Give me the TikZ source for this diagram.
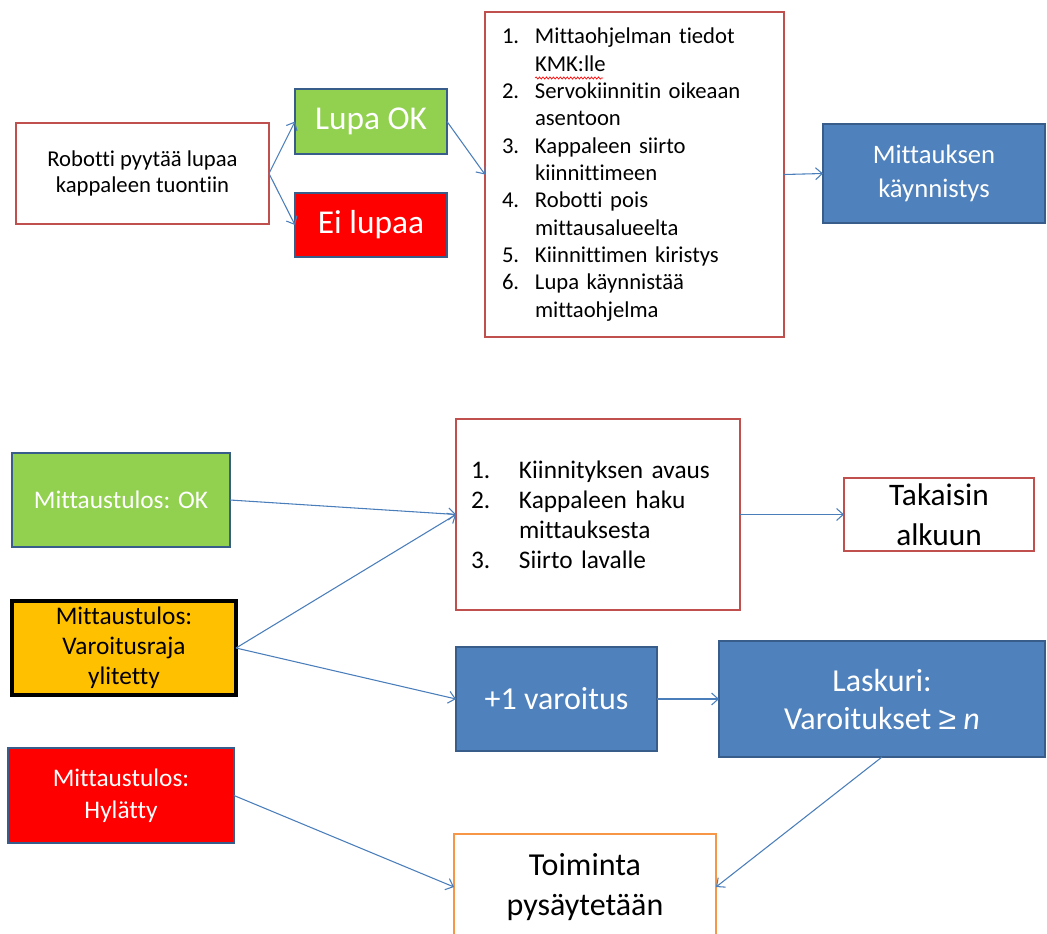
\documentclass[tikz,border=0pt]{standalone}
\usepackage{fontspec}
\setmainfont[Ligatures=NoCommon]{Carlito}
\newfontfamily\symfont{Liberation Sans}
\usetikzlibrary{arrows.meta,decorations.pathmorphing}
\definecolor{arrowc}{RGB}{74,126,187}
\definecolor{bluefill}{RGB}{79,129,189}
\definecolor{blueline}{RGB}{56,93,138}
\definecolor{greenfill}{RGB}{146,208,80}
\definecolor{redline}{RGB}{192,80,77}
\definecolor{orangeline}{RGB}{247,150,70}
\definecolor{amber}{RGB}{255,192,0}
\tikzset{
  box/.style={draw, line width=2.1pt, inner sep=0pt, outer sep=0pt, align=center},
  whitebox/.style={box, draw=redline, fill=white, text=black},
  greenbox/.style={box, draw=blueline, fill=greenfill, text=white},
  bluebox/.style={box, draw=blueline, fill=bluefill, text=white},
  redbox/.style={box, draw=blueline, fill=red, text=white},
  amberbox/.style={box, draw=black, line width=2.6pt, fill=amber, text=black},
  orangebox/.style={box, draw=orangeline, line width=2.1pt, fill=white, text=black},
  listbox/.style={whitebox, align=left},
  fs/.style 2 args={font=\fontsize{#1}{#2}\selectfont},
  conn/.style={draw=arrowc, line width=0.8pt, -{Straight Barb[length=5pt,width=9pt]}},
  squiggle/.style={draw=red, line width=0.5pt, decorate,
    decoration={snake, amplitude=0.8pt, segment length=2.6pt}},
}
\newcommand\mybox[7]{%
  \node[#6, minimum width={(#4-#2)*0.75pt}, minimum height={(#5-#3)*0.75pt}]
    (#1) at ({(#2+#4)/2},{(#3+#5)/2}) {#7};}
\newcommand\itemA[2]{\makebox[24.75pt][l]{#1}#2}
\newcommand\itemB[2]{\makebox[36pt][l]{#1}#2}
\begin{document}
\begin{tikzpicture}[x=0.75pt, y=-0.75pt]
\useasboundingbox (0,0) rectangle (1047,933);
\clip (0,0) rectangle (1047,933);
% top part
\mybox{req}{16}{123}{269}{224}{whitebox, fs={17}{20}}{Robotti pyytää lupaa\\kappaleen tuontiin}
\mybox{lupa}{295}{89}{447}{154}{greenbox, fs={25}{30}}{Lupa OK}
\mybox{ei}{295}{193}{447}{257}{redbox, fs={25}{30}}{Ei lupaa}
\mybox{listA}{485}{12}{784}{337}{listbox, fs={17}{20.5}, text width=198.75pt, inner xsep=12.75pt}{%
\itemA{1.}{Mittaohjelman tiedot}\\
\itemA{}{KMK:lle}\\
\itemA{2.}{Servokiinnitin oikeaan}\\
\itemA{}{asentoon}\\
\itemA{3.}{Kappaleen siirto}\\
\itemA{}{kiinnittimeen}\\
\itemA{4.}{Robotti pois}\\
\itemA{}{mittausalueelta}\\
\itemA{5.}{Kiinnittimen kiristys}\\
\itemA{6.}{Lupa käynnistää}\\
\itemA{}{mittaohjelma}}
\mybox{start}{823}{124}{1045}{223}{bluebox, fs={20}{25}}{Mittauksen\\käynnistys}
\draw[squiggle] (535,78) -- (603,78);
% bottom part
\mybox{ok}{12}{453}{230}{547}{greenbox, fs={19}{22.5}}{Mittaustulos: OK}
\mybox{warn}{12}{601}{236}{695}{amberbox, fs={19}{22.5}}{Mittaustulos:\\Varoitusraja\\ylitetty}
\mybox{rej}{8}{748}{234}{843}{redbox, fs={19}{24}}{Mittaustulos:\\Hylätty}
\mybox{listB}{456}{419}{740}{610}{listbox, fs={19}{22.5}, text width=190.5pt, inner xsep=11.25pt}{%
\itemB{1.}{Kiinnityksen avaus}\\
\itemB{2.}{Kappaleen haku}\\
\itemB{}{mittauksesta}\\
\itemB{3.}{Siirto lavalle}}
\mybox{back}{844}{478}{1034}{551}{whitebox, fs={23.5}{30}}{Takaisin\\alkuun}
\mybox{plus}{456}{647}{657}{751}{bluebox, fs={24}{28.5}}{+1 varoitus}
\mybox{count}{719}{641}{1045}{757}{bluebox, fs={24}{28.5}}{Laskuri:\\Varoitukset {\symfont ≥} \textit{n}}
\mybox{stop}{454}{834}{716}{940}{orangebox, fs={24}{30}}{Toiminta\\pysäytetään}
% connectors
\draw[conn] (req.east) -- (lupa.west);
\draw[conn] (req.east) -- (ei.west);
\draw[conn] (lupa.east) -- (listA.west);
\draw[conn] (listA.east) -- (start.west);
\draw[conn] (ok.east) -- (listB.west);
\draw[conn] (warn.east) -- (listB.west);
\draw[conn] (warn.east) -- (plus.west);
\draw[conn] (listB.east) -- (back.west);
\draw[conn] (plus.east) -- (count.west);
\draw[conn] (rej.east) -- (stop.west);
\draw[conn] (count.south) -- (stop.east);
\end{tikzpicture}
\end{document}
